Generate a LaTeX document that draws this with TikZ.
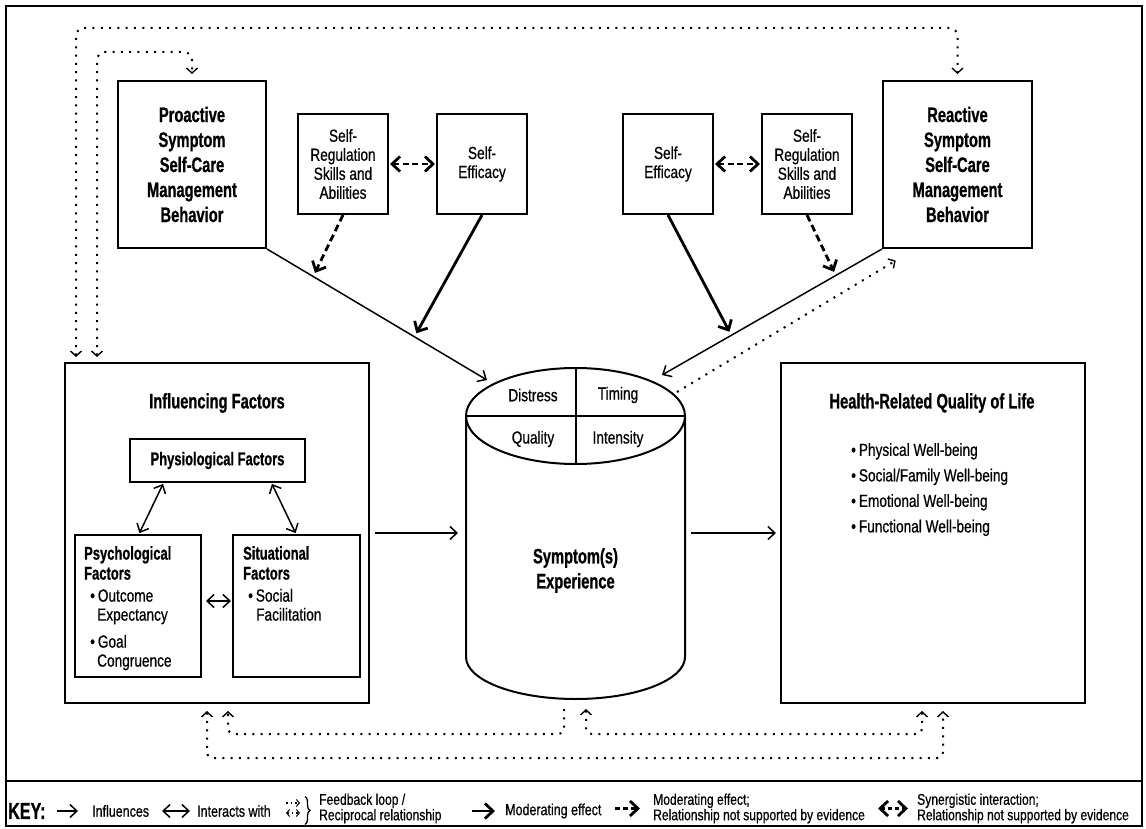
\documentclass[tikz,border=0pt]{standalone}
\usepackage{fontspec}
\setmainfont{Liberation Sans}[FakeStretch=0.78,FakeBold=0.6,BoldFeatures={FakeStretch=0.7,FakeBold=0.8}]
\usetikzlibrary{arrows.meta,positioning,calc,decorations.pathreplacing}

\begin{document}
\begin{tikzpicture}[x=1pt, y=-1pt,
    plainbox/.style={rectangle, draw, line width=2pt, align=center, inner sep=0pt},
    headtext/.style={font=\fontsize{21}{25}\selectfont\bfseries, align=center, inner sep=0pt},
    subhead/.style={font=\fontsize{18.5}{20}\selectfont\bfseries, align=center, inner sep=0pt},
    bodytext/.style={font=\fontsize{17.5}{19}\selectfont, align=center, inner sep=0pt},
    keytext/.style={font=\fontsize{15.5}{13.5}\selectfont, align=left, inner sep=0pt, anchor=west},
    infarr/.style={line width=1.5pt, -{Straight Barb[length=7pt,width=13pt]}},
    intarr/.style={line width=1.5pt, {Straight Barb[length=7pt,width=13pt]}-{Straight Barb[length=7pt,width=13pt]}},
    modarr/.style={line width=2.8pt, -{Straight Barb[length=8pt,width=15pt]}},
    moddash/.style={modarr, dash pattern=on 7pt off 4pt},
    synarr/.style={line width=2.8pt, dash pattern=on 6pt off 3.5pt, {Straight Barb[length=8pt,width=15pt]}-{Straight Barb[length=8pt,width=15pt]}},
    fbloop/.style={line width=2pt, dash pattern=on 2pt off 6.3pt, rounded corners=8pt},
    fbend/.style={-{Straight Barb[length=5pt,width=11pt,line width=1.4pt]}},
    fbboth/.style={{Straight Barb[length=5pt,width=11pt,line width=1.4pt]}-{Straight Barb[length=5pt,width=11pt,line width=1.4pt]}},
]
    \useasboundingbox (0,0) rectangle (1146,829);
    \draw[line width=2.2pt] (6,6) rectangle (1142,826);
    \draw[line width=2.6pt] (6,781) -- (1142,781);

    % Top row: self-care behaviours and moderators
    \node[plainbox, headtext, minimum width=148, minimum height=167] (pro) at (192,164.5) {Proactive\\Symptom\\Self-Care\\Management\\Behavior};
    \node[plainbox, bodytext, minimum width=90, minimum height=100] (srL) at (343,164) {Self-\\Regulation\\Skills and\\Abilities};
    \node[plainbox, bodytext, minimum width=90, minimum height=100] (seL) at (482,164) {Self-\\Efficacy};
    \node[plainbox, bodytext, minimum width=90, minimum height=100] (seR) at (668,164) {Self-\\Efficacy};
    \node[plainbox, bodytext, minimum width=90, minimum height=100] (srR) at (807,164) {Self-\\Regulation\\Skills and\\Abilities};
    \node[plainbox, headtext, minimum width=149, minimum height=167] (rea) at (957.5,164.5) {Reactive\\Symptom\\Self-Care\\Management\\Behavior};

    % Influencing factors
    \node[plainbox, minimum width=304, minimum height=340] (infl) at (217,533) {};
    \node[headtext] (infltitle) at (217,403) {Influencing Factors};
    \node[plainbox, subhead, minimum width=175, minimum height=43] (phys) at (217.5,460.5) {Physiological Factors};
    \node[plainbox, minimum width=126, minimum height=142] (psy) at (138,606) {};
    \node[plainbox, minimum width=127, minimum height=142] (sit) at (296.5,606) {};
    \node[bodytext, align=left, anchor=north west] (psytxt) at (84,546) {\textbf{\fontsize{18.5}{20}\selectfont Psychological}\\[1pt]\textbf{\fontsize{18.5}{20}\selectfont Factors}\\[3pt]\hspace*{6pt}\textbullet\,Outcome\\\hspace*{13pt}Expectancy\\[8pt]\hspace*{6pt}\textbullet\,Goal\\\hspace*{13pt}Congruence};
    \node[bodytext, align=left, anchor=north west] (sittxt) at (243,546) {\textbf{\fontsize{18.5}{20}\selectfont Situational}\\[1pt]\textbf{\fontsize{18.5}{20}\selectfont Factors}\\[3pt]\hspace*{5pt}\textbullet\,Social\\\hspace*{13pt}Facilitation};

    % Symptom experience cylinder
    \coordinate (cyl) at (575.5,416);
    \draw[line width=2pt] (cyl) ellipse [x radius=109.5, y radius=48];
    \draw[line width=2pt] (466,416) -- (466,657) arc [start angle=180, end angle=0, x radius=109.5, y radius=42] -- (685,416);
    \draw[line width=2pt] (466,416) -- (685,416);
    \draw[line width=2pt] (575.5,368) -- (575.5,464);
    \node[bodytext] (distress) at (533,395) {Distress};
    \node[bodytext] (timing) at (618,395) {Timing};
    \node[bodytext] (quality) at (533,439) {Quality};
    \node[bodytext] (intensity) at (618,439) {Intensity};
    \node[headtext] (symexp) at (575.5,570.5) {Symptom(s)\\Experience};
    \coordinate (cylW) at (466,533);
    \coordinate (cylE) at (685,533);
    \coordinate (cylNW) at (487,380);
    \coordinate (cylNE) at (662,375);
    \coordinate (cylTR) at (677,392);
    \coordinate (cylS1) at (564,699);
    \coordinate (cylS2) at (586,699);

    % Health-related quality of life
    \node[plainbox, minimum width=304, minimum height=340] (hrq) at (933,533) {};
    \node[headtext] (hrqtitle) at (932,403) {Health-Related Quality of Life};
    \node[bodytext, font=\fontsize{17.5}{25.5}\selectfont, align=left, anchor=north west] (hrqlist) at (851,443) {\textbullet\,Physical Well-being\\\textbullet\,Social/Family Well-being\\\textbullet\,Emotional Well-being\\\textbullet\,Functional Well-being};

    % Influences and interactions
    \draw[infarr, shorten <=5pt, shorten >=8pt] (infl.east) -- (cylW);
    \draw[infarr, shorten <=6pt, shorten >=4pt] (cylE) -- (hrq.west);
    \draw[infarr] (pro.south east) -- (cylNW);
    \draw[infarr] (rea.south west) -- (cylNE);
    \draw[intarr, shorten <=1pt, shorten >=1pt] ([xshift=-54pt]phys.south) -- (psy.north -| 139,0);
    \draw[intarr, shorten <=1pt, shorten >=1pt] ([xshift=54pt]phys.south) -- (sit.north -| 296,0);
    \draw[intarr, shorten <=4pt, shorten >=1pt] ([yshift=5pt]psy.east) -- ([yshift=5pt]sit.west);

    % Moderating effects
    \coordinate (mL) at ($(pro.south east)!0.67!(cylNW)$);
    \coordinate (dL) at ($(pro.south east)!0.21!(cylNW)$);
    \coordinate (mR) at ($(rea.south west)!0.685!(cylNE)$);
    \coordinate (dR) at ($(rea.south west)!0.21!(cylNE)$);
    \draw[modarr, shorten >=4pt] (seL.south) -- (mL);
    \draw[moddash, shorten >=4pt] (srL.south) -- (dL);
    \draw[modarr, shorten >=4pt] (seR.south) -- (mR);
    \draw[moddash, shorten >=4pt] (srR.south) -- (dR);
    \draw[synarr, shorten <=1pt, shorten >=1pt] (srL.east) -- (seL.west);
    \draw[synarr, shorten <=1pt, shorten >=1pt] (seR.east) -- (srR.west);

    % Feedback loops
    \coordinate (looptop) at (0,28);
    \coordinate (loopmid) at (0,52);
    \coordinate (loopin) at (0,734);
    \coordinate (loopout) at (0,758);
    \coordinate (inflA) at ([xshift=12pt]infl.north west);
    \coordinate (inflB) at ([xshift=33pt]infl.north west);
    \coordinate (inflC) at ([xshift=-10pt]infl.south);
    \coordinate (inflD) at ([xshift=11pt]infl.south);
    \coordinate (hrqC) at ([xshift=10pt]hrq.south);
    \coordinate (hrqD) at ([xshift=-11pt]hrq.south);
    \draw[fbloop, fbboth, shorten <=5pt, shorten >=6pt] (inflA) -- (inflA |- looptop) -- (rea.north |- looptop) -- (rea.north);
    \draw[fbloop, fbboth, shorten <=5pt, shorten >=6pt] (inflB) -- (inflB |- loopmid) -- (pro.north |- loopmid) -- (pro.north);
    \draw[fbloop, fbend, shorten >=5pt] (cylTR) -- ([shift={(18,9)}]rea.south west);
    \draw[fbloop, fbboth, rounded corners=6pt, shorten <=7pt, shorten >=7pt] (inflC) -- (inflC |- loopout) -- (hrqC |- loopout) -- (hrqC);
    \draw[fbloop, fbend, rounded corners=6pt, shorten <=10pt, shorten >=7pt] (cylS1) -- (cylS1 |- loopin) -- (inflD |- loopin) -- (inflD);
    \draw[fbloop, fbboth, rounded corners=6pt, shorten <=10pt, shorten >=7pt] (cylS2) -- (cylS2 |- loopin) -- (hrqD |- loopin) -- (hrqD);

    % Key
    \node[keytext, font=\fontsize{23}{25}\selectfont\bfseries] (keyhd) at (8,811) {KEY:};
    \node[keytext, font=\fontsize{16}{14}\selectfont] (kinf) at (92,811) {Influences};
    \draw[infarr] ([xshift=-35pt]kinf.west) -- ([xshift=-14pt]kinf.west);
    \node[keytext, font=\fontsize{16}{14}\selectfont] (kint) at (197,811) {Interacts with};
    \draw[intarr] ([xshift=-35pt]kint.west) -- ([xshift=-7pt]kint.west);
    \node[keytext] (kfb) at (319,808.5) {Feedback loop /\\Reciprocal relationship};
    \draw[line width=1.4pt, dash pattern=on 1.5pt off 3pt, -{Straight Barb[length=3pt,width=7pt,line width=1pt]}] ($(kfb.west)+(-33,-5.5)$) -- ($(kfb.west)+(-19,-5.5)$);
    \draw[line width=1.4pt, dash pattern=on 1.5pt off 3pt, {Straight Barb[length=3pt,width=7pt,line width=1pt]}-{Straight Barb[length=3pt,width=7pt,line width=1pt]}] ($(kfb.west)+(-33,4.5)$) -- ($(kfb.west)+(-19,4.5)$);
    \draw[line width=1.3pt, decorate, decoration={brace, amplitude=5pt}] ($(kfb.west)+(-14,-12)$) -- ($(kfb.west)+(-14,16)$);
    \node[keytext, font=\fontsize{16}{14}\selectfont] (kmod) at (505,811) {Moderating effect};
    \draw[modarr] ([xshift=-33pt]kmod.west) -- ([xshift=-10pt]kmod.west);
    \node[keytext] (kmd) at (653,808.5) {Moderating effect;\\Relationship not supported by evidence};
    \draw[moddash, dash pattern=on 5pt off 3pt] ([xshift=-38pt]kmd.west) -- ([xshift=-13pt]kmd.west);
    \node[keytext] (ksyn) at (917,808.5) {Synergistic interaction;\\Relationship not supported by evidence};
    \draw[synarr, dash pattern=on 4pt off 3pt] ([xshift=-39pt]ksyn.west) -- ([xshift=-9pt]ksyn.west);
\end{tikzpicture}
\end{document}
